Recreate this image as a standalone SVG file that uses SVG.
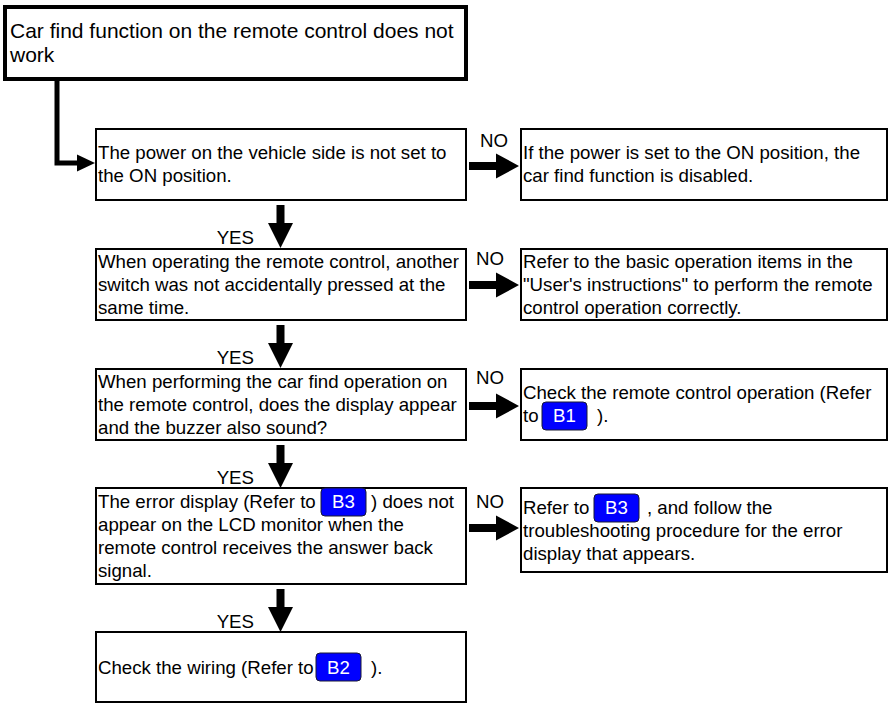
<svg xmlns="http://www.w3.org/2000/svg" width="894" height="704" viewBox="0 0 894 704">
<style>
text{font-family:"Liberation Sans",Arial,sans-serif;font-size:18.67px;fill:#000}
.box{fill:#fff;stroke:#000;stroke-width:2}
.top{fill:#fff;stroke:#000;stroke-width:4}
.big{font-size:21px}
.badge{fill:#0000ff;stroke:#1a1a33;stroke-width:1}
.bt{fill:#fff;text-anchor:middle}
.lbl{text-anchor:middle}
.yes{text-anchor:end}
.arr{fill:#000}
</style>
<g id="start">
<rect class="top" x="5" y="7" width="461" height="72"/>
<text class="big" x="10" y="38">Car find function on the remote control does not</text>
<text class="big" x="10" y="62">work</text>
</g>
<g id="q1">
<rect class="box" x="96" y="129" width="370" height="71"/>
<text x="98" y="159">The power on the vehicle side is not set to</text>
<text x="98" y="182">the ON position.</text>
</g>
<g id="r1">
<rect class="box" x="521" y="129" width="366" height="71"/>
<text x="523" y="159">If the power is set to the ON position, the</text>
<text x="523" y="182">car find function is disabled.</text>
</g>
<g id="q2">
<rect class="box" x="96" y="249" width="370" height="71"/>
<text x="98" y="268">When operating the remote control, another</text>
<text x="98" y="291">switch was not accidentally pressed at the</text>
<text x="98" y="314">same time.</text>
</g>
<g id="r2">
<rect class="box" x="521" y="249" width="366" height="71"/>
<text x="523" y="268">Refer to the basic operation items in the</text>
<text x="523" y="291">"User's instructions" to perform the remote</text>
<text x="523" y="314">control operation correctly.</text>
</g>
<g id="q3">
<rect class="box" x="96" y="369" width="370" height="71"/>
<text x="98" y="388">When performing the car find operation on</text>
<text x="98" y="411">the remote control, does the display appear</text>
<text x="98" y="434">and the buzzer also sound?</text>
</g>
<g id="r3">
<rect class="box" x="521" y="369" width="366" height="71"/>
<text x="523" y="399">Check the remote control operation (Refer</text>
<text x="523" y="422">to</text>
<rect class="badge" x="542" y="402" width="45" height="28" rx="4"/>
<text class="bt" x="564.5" y="422">B1</text>
<text x="597" y="422">).</text>
</g>
<g id="q4">
<rect class="box" x="96" y="488" width="370" height="96"/>
<text x="98" y="508">The error display (Refer to</text>
<rect class="badge" x="321" y="488" width="45" height="28" rx="4"/>
<text class="bt" x="343.5" y="508">B3</text>
<text x="371" y="508">) does not</text>
<text x="98" y="531">appear on the LCD monitor when the</text>
<text x="98" y="554">remote control receives the answer back</text>
<text x="98" y="577">signal.</text>
</g>
<g id="r4">
<rect class="box" x="521" y="488" width="366" height="84"/>
<text x="523" y="514">Refer to</text>
<rect class="badge" x="594" y="494" width="45" height="28" rx="4"/>
<text class="bt" x="616.5" y="514">B3</text>
<text x="647" y="514">, and follow the</text>
<text x="523" y="537">troubleshooting procedure for the error</text>
<text x="523" y="560">display that appears.</text>
</g>
<g id="q5">
<rect class="box" x="96" y="632" width="370" height="70"/>
<text x="98" y="674">Check the wiring (Refer to</text>
<rect class="badge" x="316" y="653" width="45" height="28" rx="4"/>
<text class="bt" x="338.5" y="674">B2</text>
<text x="371" y="674">).</text>
</g>
<g id="connectors">
<path d="M57,81 V163 H80" fill="none" stroke="#000" stroke-width="5"/>
<polygon class="arr" points="77,154.5 95,163 77,171.5"/>
<polygon class="arr" points="469,162 496,162 496,153.5 519,166 496,178.5 496,170 469,170"/>
<polygon class="arr" points="469,281 496,281 496,272.5 519,285 496,297.5 496,289 469,289"/>
<polygon class="arr" points="469,402 496,402 496,393.5 519,406 496,418.5 496,410 469,410"/>
<polygon class="arr" points="469,524 496,524 496,515.5 519,528 496,540.5 496,532 469,532"/>
<polygon class="arr" points="276.5,205 284.5,205 284.5,223 293,223 280.5,248 268,223 276.5,223"/>
<polygon class="arr" points="276.5,325 284.5,325 284.5,343 293,343 280.5,368 268,343 276.5,343"/>
<polygon class="arr" points="276.5,445 284.5,445 284.5,463 293,463 280.5,488 268,463 276.5,463"/>
<polygon class="arr" points="276.5,589 284.5,589 284.5,607 293,607 280.5,632 268,607 276.5,607"/>
<text class="lbl" x="494" y="147">NO</text>
<text class="lbl" x="490" y="265">NO</text>
<text class="lbl" x="490" y="384">NO</text>
<text class="lbl" x="490" y="508">NO</text>
<text class="yes" x="254" y="244">YES</text>
<text class="yes" x="254" y="364">YES</text>
<text class="yes" x="254" y="484">YES</text>
<text class="yes" x="254" y="628">YES</text>
</g>
</svg>
